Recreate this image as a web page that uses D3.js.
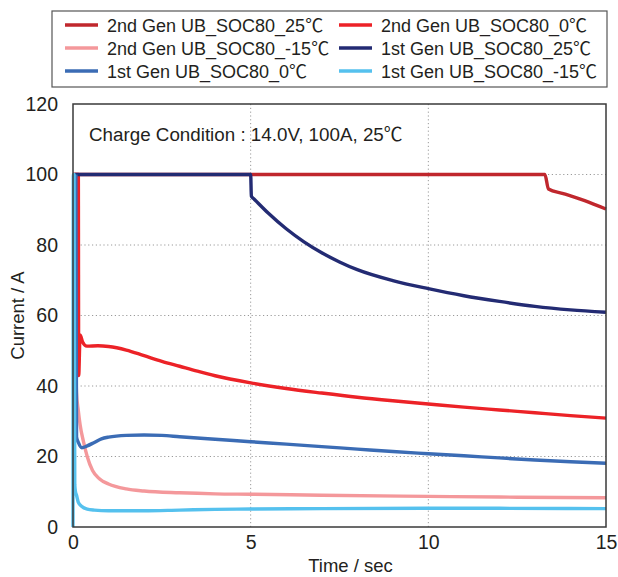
<!DOCTYPE html>
<html><head><meta charset="utf-8">
<script src="https://cdn.jsdelivr.net/npm/d3@7"></script>
<style>body{margin:0;background:#fff}svg{display:block}text{font-family:"Liberation Sans","Noto Sans CJK JP",sans-serif;fill:#231f20}</style>
</head><body><svg id="c" width="618" height="577"></svg>
<script>
// ---- data ----
const seriesNames = ["2nd Gen UB_SOC80_25\u2103","2nd Gen UB_SOC80_0\u2103","2nd Gen UB_SOC80_-15\u2103","1st Gen UB_SOC80_25\u2103","1st Gen UB_SOC80_0\u2103","1st Gen UB_SOC80_-15\u2103"];
const seriesColors = ["#c0272d","#ec2227","#f4989b","#232b73","#3b6cb5","#55c1ee"];
const gen2_25 = [[0,100],[13.28,100],[13.38,95.9],[13.8,94.6],[14.4,92.6],[15,90.2]];
const gen2_0 = [[0,100],[0.15,100],[0.16,43],[0.2,54.5],[0.27,52.5],[0.39,51.3],[0.7,51.4],[1,51.2],[1.5,50.2],[2,48.6],[2.5,47.0],[3,45.6],[3.5,44.2],[4,42.9],[5,40.9],[6,39.3],[7,38.0],[8,36.8],[9,35.8],[10,34.9],[11,34.0],[12,33.2],[13,32.4],[14,31.6],[15,30.9]];
const gen2_m15 = [[0,100],[0.03,100],[0.06,58],[0.1,38],[0.15,33],[0.2,29],[0.3,24],[0.4,20],[0.55,16],[0.75,13.6],[1,12.2],[1.5,10.8],[2,10.2],[3,9.7],[4,9.4],[5,9.3],[7,9.0],[10,8.7],[12,8.5],[15,8.3]];
const gen1_25 = [[0.05,100],[5,100],[5.02,93.8],[5.1,93.0],[5.5,89.0],[6,84.6],[6.5,80.9],[7,77.8],[7.5,75.2],[8,73.0],[9,69.9],[10,67.6],[11,65.6],[12,64.0],[13,62.6],[14,61.6],[15,60.9]];
const gen1_0 = [[0.08,100],[0.1,25.5],[0.15,24],[0.25,22.5],[0.4,23],[0.6,24],[0.8,25],[1,25.5],[1.5,26],[2,26.1],[2.5,26],[3,25.6],[4,24.9],[5,24.2],[6,23.5],[7,22.8],[8,22.1],[9,21.4],[10,20.8],[11,20.2],[12,19.6],[13,19.0],[14,18.5],[15,18.1]];
const gen1_m15 = [[0,0],[0.01,100],[0.03,100],[0.05,12],[0.07,10],[0.1,9],[0.15,7],[0.25,5.8],[0.4,5.1],[0.6,4.8],[1,4.6],[2,4.6],[3,4.8],[4,5.0],[5,5.1],[7,5.2],[10,5.3],[12,5.3],[15,5.2]];
const seriesData = [gen2_25, gen2_0, gen2_m15, gen1_25, gen1_0, gen1_m15];
const xTicks = [0,5,10,15];
const yTicks = [0,20,40,60,80,100,120];
const titleText = "Charge Condition : 14.0V, 100A, 25\u2103";
const xLabel = "Time / sec";
const yLabel = "Current / A";

// ---- layout ----
const svg = d3.select("#c");
const L = 73, R = 606, T = 104, B = 527;
const x = d3.scaleLinear().domain([0,15]).range([L,R]);
const y = d3.scaleLinear().domain([0,120]).range([B,T]);

// grid
const g = svg.append("g");
g.selectAll(".gy").data([20,40,60,80,100]).join("line")
  .attr("x1",L).attr("x2",R).attr("y1",d=>y(d)).attr("y2",d=>y(d))
  .attr("stroke","#9a9a9a").attr("stroke-width",1).attr("stroke-dasharray","1.2,2.6");
g.selectAll(".gx").data([5,10]).join("line")
  .attr("y1",T).attr("y2",B).attr("x1",d=>x(d)).attr("x2",d=>x(d))
  .attr("stroke","#9a9a9a").attr("stroke-width",1).attr("stroke-dasharray","1.2,2.6");

// title inside plot
svg.append("text").attr("x",89).attr("y",141).attr("font-size",18.8).text(titleText);

// lines
const line = d3.line().x(d=>x(d[0])).y(d=>y(d[1])).curve(d3.curveMonotoneX);
svg.append("g").selectAll("path").data(seriesData).join("path")
  .attr("d",line).attr("fill","none")
  .attr("stroke",(d,i)=>seriesColors[i]).attr("stroke-width",3.4)
  .attr("stroke-linejoin","round").attr("stroke-linecap","butt");

// frame
svg.append("rect").attr("x",L).attr("y",T).attr("width",R-L).attr("height",B-T)
  .attr("fill","none").attr("stroke","#3a3a3a").attr("stroke-width",1.5);

// axes
const xa = svg.append("g").attr("transform",`translate(0,${B})`)
  .call(d3.axisBottom(x).tickValues(xTicks).tickSize(0).tickPadding(8).tickFormat(d3.format("d")));
xa.select(".domain").remove();
xa.selectAll("text").attr("font-size",19.5).style("font-family",'"Liberation Sans",sans-serif').attr("fill","#231f20");
const ya = svg.append("g").attr("transform",`translate(${L},0)`)
  .call(d3.axisLeft(y).tickValues(yTicks).tickSize(0).tickPadding(15).tickFormat(d3.format("d")));
ya.select(".domain").remove();
ya.selectAll("text").attr("font-size",19.5).style("font-family",'"Liberation Sans",sans-serif').attr("fill","#231f20");

svg.append("text").attr("x",(L+R)/2 + 11).attr("y",572).attr("text-anchor","middle").attr("font-size",18.5).text(xLabel);
svg.append("text").attr("transform",`translate(24,${(T+B)/2}) rotate(-90)`).attr("text-anchor","middle").attr("font-size",18.5).text(yLabel);

// legend
svg.append("rect").attr("x",52).attr("y",11).attr("width",555).attr("height",76)
  .attr("fill","#fff").attr("stroke","#555").attr("stroke-width",1.2);
const lg = svg.append("g").selectAll("g").data(seriesNames).join("g")
  .attr("transform",(d,i)=>`translate(${i%2===0?65:339},${25+Math.floor(i/2)*23})`);
lg.append("line").attr("x1",0).attr("x2",33).attr("stroke",(d,i)=>seriesColors[i]).attr("stroke-width",3.6);
lg.append("text").attr("x",42).attr("y",6.5).attr("font-size",18).text(d=>d);
</script></body></html>
